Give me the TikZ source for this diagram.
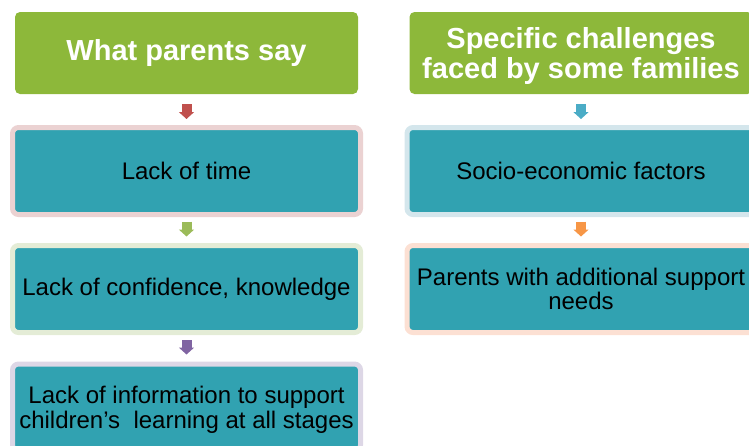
\documentclass[tikz,border=0pt]{standalone}
\usepackage{fontspec}
\setmainfont{Liberation Sans}
\usepackage{xcolor}
\usetikzlibrary{positioning,arrows.meta}

\definecolor{hdrgreen}{HTML}{8DB83A}
\definecolor{boxteal}{HTML}{31A2B1}
\definecolor{rimpink}{HTML}{EBD2D2}
\definecolor{rimgreen}{HTML}{E4ECD6}
\definecolor{rimlilac}{HTML}{DDD7E6}
\definecolor{rimblue}{HTML}{D4E6EC}
\definecolor{rimpeach}{HTML}{FCE0D3}
\definecolor{arrred}{HTML}{C0504D}
\definecolor{arrgreen}{HTML}{9BBB59}
\definecolor{arrpurple}{HTML}{8064A2}
\definecolor{arrblue}{HTML}{4BACC6}
\definecolor{arrorange}{HTML}{F79646}

\begin{document}
\begin{tikzpicture}[
  x=1pt, y=1pt,
  hdr/.style={fill=hdrgreen, rounded corners=5pt, align=center,
              minimum width=343pt, minimum height=82pt, inner sep=0pt,
              outer sep=0pt, text=white,
              font=\fontsize{29}{30}\selectfont\bfseries},
  item/.style={fill=boxteal, draw=#1, line width=5pt, rounded corners=6pt,
               align=center, minimum width=348pt, minimum height=87pt,
               inner sep=0pt, outer sep=0pt,
               font=\fontsize{24}{25}\selectfont},
  flow/.style={draw=#1, line width=10pt,
               -{Triangle[length=7pt, width=15pt, fill=#1]}}
]
\useasboundingbox (0,0) rectangle (749,-445);
\clip (0,0) rectangle (749,-445);

% left column
\node[hdr] (say) at (186.5,-53) {What parents say};
\node[item=rimpink, below=33.5pt of say] (time) {Lack of time};
\node[item=rimgreen, below=31pt of time] (conf)
  {Lack of confidence, knowledge};
\node[item=rimlilac, below=31.5pt of conf, text depth=0pt] (info)
  {Lack of information to support\\children’s~ learning at all stages};

% right column
\node[hdr, right=51.5pt of say, text depth=0pt] (spec)
  {Specific challenges\\faced by some families};
\node[item=rimblue, below=33.5pt of spec] (socio)
  {Socio-economic factors};
\node[item=rimpeach, below=31pt of socio, font=\fontsize{24}{24}\selectfont]
  (needs) {Parents with additional support\\needs};

\draw[flow=arrred] ([yshift=-10pt]say.south) -- ([yshift=8.5pt]time.north);
\draw[flow=arrgreen] ([yshift=-7pt]time.south) -- ([yshift=9pt]conf.north);
\draw[flow=arrpurple] ([yshift=-7.5pt]conf.south) -- ([yshift=9.5pt]info.north);
\draw[flow=arrblue] ([yshift=-10pt]spec.south) -- ([yshift=8.5pt]socio.north);
\draw[flow=arrorange] ([yshift=-7pt]socio.south) -- ([yshift=9pt]needs.north);
\end{tikzpicture}
\end{document}
